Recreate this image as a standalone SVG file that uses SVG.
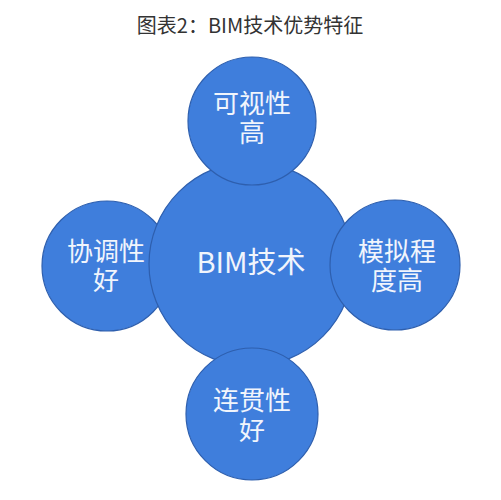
<svg xmlns="http://www.w3.org/2000/svg" width="501" height="500" viewBox="0 0 501 500">
<style>
.c{fill:#3F7EDC;stroke:#2E5FAE;stroke-width:1.2}
.t{fill:#F1F5FC;font-family:"Liberation Sans","Noto Sans CJK SC",sans-serif;font-size:26px;text-anchor:middle}
.b{font-family:"Noto Sans CJK SC","Noto Sans",sans-serif;font-size:29px}
.title{fill:#333;font-family:"Noto Sans CJK SC","Noto Sans",sans-serif;font-size:20px;text-anchor:middle}
</style>
<rect width="501" height="500" fill="#fff"/>
<text class="title" x="250" y="33">图表2：BIM技术优势特征</text>
<g id="left"><circle class="c" cx="107" cy="266" r="65"/><text class="t" x="106" y="261">协调性</text><text class="t" x="106" y="290">好</text></g>
<g id="center"><circle class="c" cx="251" cy="264" r="102"/><text class="t b" x="251" y="273">BIM技术</text></g>
<g id="right"><circle class="c" cx="395" cy="265" r="65"/><text class="t" x="397" y="261">模拟程</text><text class="t" x="397" y="290">度高</text></g>
<g id="top"><circle class="c" cx="252" cy="121" r="64"/><text class="t" x="252" y="113">可视性</text><text class="t" x="252" y="142">高</text></g>
<g id="bottom"><circle class="c" cx="252" cy="414" r="66"/><text class="t" x="252" y="410">连贯性</text><text class="t" x="252" y="440">好</text></g>
<g id="connectors"/>
</svg>
